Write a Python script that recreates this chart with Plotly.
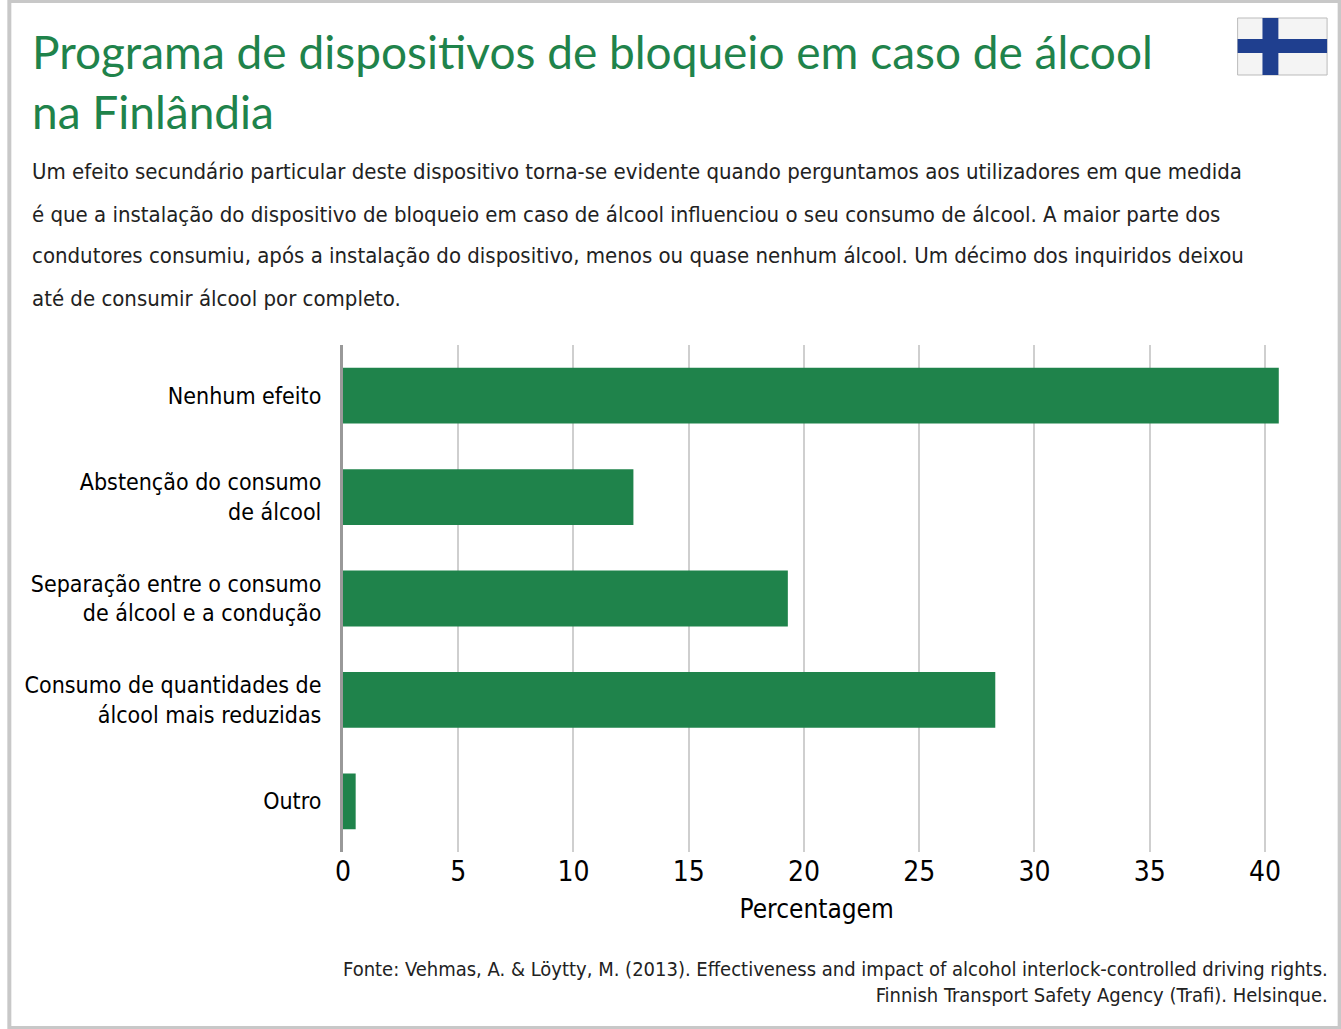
import plotly.graph_objects as go

categories = ["Nenhum efeito", "Abstenção do consumo<br>de álcool", "Separação entre o consumo<br>de álcool e a condução",
              "Consumo de quantidades de<br>álcool mais reduzidas", "Outro"]
values = [40.6, 12.6, 19.3, 28.3, 0.55]
tick_vals = [0, 5, 10, 15, 20, 25, 30, 35, 40]

subtitle_lines = [
  "Um efeito secundário particular deste dispositivo torna-se evidente quando perguntamos aos utilizadores em que medida",
  "é que a instalação do dispositivo de bloqueio em caso de álcool influenciou o seu consumo de álcool. A maior parte dos",
  "condutores consumiu, após a instalação do dispositivo, menos ou quase nenhum álcool. Um décimo dos inquiridos deixou",
  "até de consumir álcool por completo.",
]

W, H = 1341, 1029
GREEN = "#1f834b"
FONT = "Liberation Sans Narrow, DejaVu Sans Condensed, Roboto, sans-serif"

fig = go.Figure(go.Bar(
  x=values, y=categories, orientation="h",
  marker=dict(color=GREEN, line=dict(width=0)), width=0.55,
))

fig.update_layout(
  width=W, height=H, paper_bgcolor="white", plot_bgcolor="white",
  margin=dict(l=0, r=0, t=0, b=0), showlegend=False,
  xaxis=dict(domain=[337 / W, 1290 / W], range=[0, 41.1], tickvals=tick_vals,
             showgrid=True, gridcolor="#cfcfcf", gridwidth=1.5, zeroline=False,
             tickfont=dict(family=FONT, size=28, color="black"),
             title=dict(text="Percentagem", font=dict(family=FONT, size=26, color="black"), standoff=12)),
  yaxis=dict(domain=[1 - 852 / H, 1 - 345 / H], autorange="reversed",
             showline=True, linecolor="#999999", linewidth=3, ticks="",
             tickfont=dict(family=FONT, size=23, color="black"), ticklabelstandoff=14),
  font=dict(family=FONT),
)

# frame
fig.add_shape(type="rect", xref="paper", yref="paper", x0=0.001, x1=0.999, y0=0.001, y1=0.999,
              line=dict(color="#c8c8c8", width=4))

# Finnish flag
fx0, fy0, fx1, fy1 = 1237, 18, 1327, 75
fig.add_shape(type="rect", xref="paper", yref="paper", x0=fx0 / W, x1=fx1 / W, y0=1 - fy1 / H, y1=1 - fy0 / H,
              fillcolor="#f4f4f4", line=dict(color="#bbbbbb", width=1))
fig.add_shape(type="rect", xref="paper", yref="paper", x0=1262 / W, x1=1278 / W, y0=1 - fy1 / H, y1=1 - fy0 / H,
              fillcolor="#1f3f8f", line=dict(width=0))
fig.add_shape(type="rect", xref="paper", yref="paper", x0=fx0 / W, x1=fx1 / W, y0=1 - 53 / H, y1=1 - 39 / H,
              fillcolor="#1f3f8f", line=dict(width=0))

fig.add_annotation(xref="paper", yref="paper", x=22 / W, y=1 - 22 / H, xanchor="left", yanchor="top",
                   text="Programa de dispositivos de bloqueio em caso de álcool<br>na Finlândia", showarrow=False, align="left",
                   font=dict(family="Lato, sans-serif", size=46, color=GREEN))
for i, line in enumerate(subtitle_lines):
  fig.add_annotation(xref="paper", yref="paper", x=22 / W, y=1 - (172 + 42 * i) / H, xanchor="left", yanchor="middle",
                     text=line, showarrow=False, align="left", font=dict(family=FONT, size=22, color="#222222"))
fig.add_annotation(xref="paper", yref="paper", x=1330 / W, y=1 - 955 / H, xanchor="right", yanchor="top",
                   text="Fonte: Vehmas, A. & Löytty, M. (2013). Effectiveness and impact of alcohol interlock-controlled driving rights.<br>"
                        "Finnish Transport Safety Agency (Trafi). Helsinque.",
                   showarrow=False, align="right", font=dict(family=FONT, size=20, color="#222222"))

fig.write_html("out.html", config={"displayModeBar": False},
               post_script="document.body.style.margin='0';document.body.style.padding='0';")
